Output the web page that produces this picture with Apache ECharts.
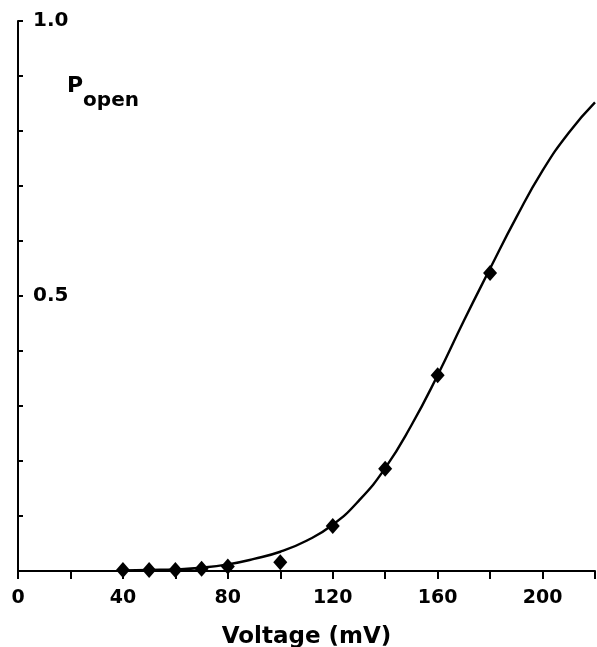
<!DOCTYPE html>
<html>
<head>
<meta charset="utf-8">
<script src="https://cdn.jsdelivr.net/npm/echarts@6/dist/echarts.min.js"></script>
<style>html,body{margin:0;padding:0;background:#fff}#c{width:597px;height:647px}</style>
</head>
<body>
<div id="c"></div>
<script>
// measured data points (voltage mV, open probability)
var pointVoltage = [40, 50, 60, 70, 80, 100, 120, 140, 160, 180];
var pointPopen   = [0.002, 0.002, 0.002, 0.004, 0.008, 0.016, 0.082, 0.186, 0.356, 0.542];
// fitted curve
var curveVoltage = [40, 50, 60, 70, 80, 90, 100, 110, 120, 130, 140, 150, 160, 170, 180, 190, 200, 210, 220];
var curvePopen   = [0.001, 0.002, 0.003, 0.006, 0.012, 0.022, 0.035, 0.055, 0.084, 0.128, 0.187, 0.265, 0.356, 0.455, 0.55, 0.643, 0.728, 0.797, 0.852];
var yTickLabels = {'1': '1.0', '0.5': '0.5'};

var fontFam = '"DejaVu Sans", "Liberation Sans", Arial, sans-serif';
var chart = echarts.init(document.getElementById('c'), null, {renderer: 'canvas'});
chart.setOption({
  animation: false,
  backgroundColor: '#fff',
  grid: {left: 18, right: 2, top: 21, bottom: 76, containLabel: false, outerBoundsMode: 'none'},
  xAxis: {
    type: 'value', min: 0, max: 220, interval: 20,
    axisLine: {show: true, lineStyle: {color: '#000', width: 2}},
    axisTick: {show: true, length: 8, lineStyle: {color: '#000', width: 2}},
    splitLine: {show: false},
    axisLabel: {
      color: '#000', fontSize: 19, fontWeight: 'bold', fontFamily: fontFam, margin: 18,
      formatter: function (v) { return (v % 40 === 0 && v <= 200) ? String(v) : ''; }
    },
    name: 'Voltage (mV)', nameLocation: 'middle', nameGap: 55,
    nameTextStyle: {color: '#000', fontSize: 23, fontWeight: 'bold', fontFamily: fontFam}
  },
  yAxis: {
    type: 'value', min: 0, max: 1, interval: 0.1,
    axisLine: {show: true, lineStyle: {color: '#000', width: 2}},
    axisTick: {show: true, inside: true, length: 5, lineStyle: {color: '#000', width: 2}},
    splitLine: {show: false},
    axisLabel: {
      inside: true, color: '#000', fontSize: 20, fontWeight: 'bold', fontFamily: fontFam, margin: 15,
      formatter: function (v) { var k = String(Math.round(v * 10) / 10); return yTickLabels[k] || ''; }
    }
  },
  graphic: [{
    type: 'text', left: 67, top: 75,
    style: {
      text: '{p|P}{s|open}',
      rich: {
        p: {fontSize: 22, fontWeight: 'bold', fontFamily: fontFam, fill: '#000', verticalAlign: 'top', lineHeight: 22},
        s: {fontSize: 20, fontWeight: 'bold', fontFamily: fontFam, fill: '#000', padding: [16, 0, 0, 0], lineHeight: 22, verticalAlign: 'top'}
      }
    }
  }],
  series: [{
    type: 'line',
    data: curveVoltage.map(function (v, i) { return [v, curvePopen[i]]; }),
    smooth: 0.5, showSymbol: false, symbol: 'none',
    lineStyle: {color: '#000', width: 2.4},
    clip: false, z: 2
  }, {
    type: 'scatter',
    data: pointVoltage.map(function (v, i) { return [v, pointPopen[i]]; }),
    symbol: 'diamond', symbolSize: [14, 16],
    itemStyle: {color: '#000', opacity: 1},
    clip: false, z: 3
  }]
});
</script>
</body>
</html>
